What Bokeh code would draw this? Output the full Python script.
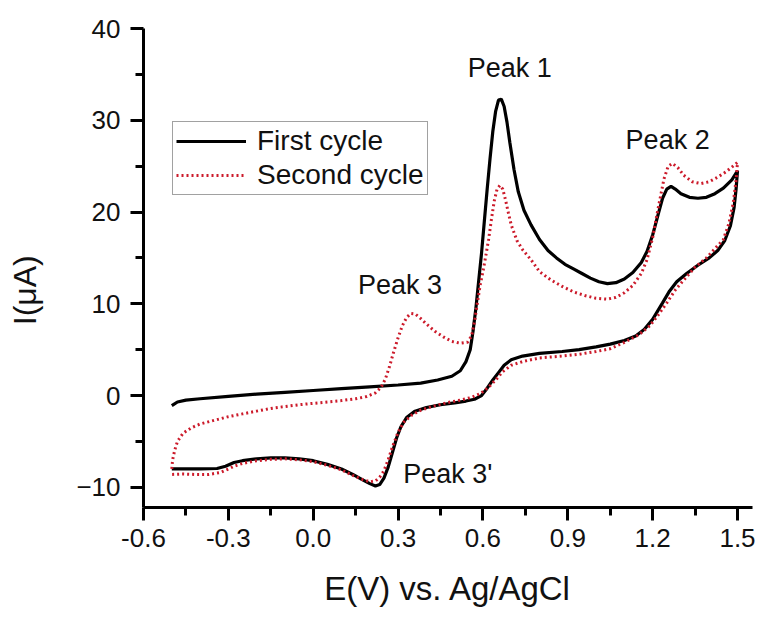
from bokeh.embed import file_html
from bokeh.models import (FixedTicker, Label, Legend, LegendItem,
                          PrintfTickFormatter)
from bokeh.plotting import figure
from bokeh.resources import INLINE

# Cyclic voltammograms: potential E (V vs. Ag/AgCl) and current I (uA)
first_E = [
    -0.50, -0.48, -0.45, -0.40, -0.30, -0.20, -0.10, 0.00, 0.10, 0.20, 0.30,
    0.38, 0.44, 0.49, 0.52, 0.54, 0.555, 0.565, 0.575, 0.585, 0.595, 0.605,
    0.615, 0.625, 0.635, 0.645, 0.655, 0.665, 0.675, 0.685, 0.695, 0.71,
    0.725, 0.745, 0.77, 0.80, 0.83, 0.86, 0.89, 0.92, 0.95, 0.98, 1.01, 1.04,
    1.07, 1.10, 1.13, 1.16, 1.18, 1.20, 1.22, 1.235, 1.25, 1.265, 1.28, 1.30,
    1.33, 1.36, 1.39, 1.42, 1.45, 1.48, 1.50,
    1.495, 1.488, 1.475, 1.455, 1.43, 1.40, 1.36, 1.32, 1.285, 1.26, 1.235,
    1.20, 1.17, 1.14, 1.10, 1.05, 1.00, 0.94, 0.88, 0.80, 0.74, 0.70, 0.675,
    0.655, 0.635, 0.615, 0.595, 0.57, 0.54, 0.50, 0.45, 0.40, 0.36, 0.33,
    0.31, 0.295, 0.28, 0.265, 0.25, 0.235, 0.22, 0.20, 0.17, 0.14, 0.10,
    0.05, 0.00, -0.05, -0.10, -0.15, -0.20, -0.25, -0.28, -0.31, -0.34,
    -0.40, -0.45, -0.50,
]
first_I = [
    -1.1, -0.7, -0.5, -0.35, -0.1, 0.15, 0.35, 0.55, 0.75, 0.95, 1.15,
    1.35, 1.7, 2.1, 2.7, 3.7, 5.0, 7.0, 9.5, 12.5, 15.5, 19.0,
    22.5, 25.8, 28.8, 31.0, 32.2, 32.3, 31.5, 29.8, 27.6, 24.6,
    22.2, 20.2, 18.6, 17.0, 15.8, 15.0, 14.3, 13.8, 13.3, 12.8, 12.4, 12.2,
    12.3, 12.7, 13.4, 14.5, 15.7, 17.5, 19.8, 21.5, 22.5, 22.8, 22.5, 22.0,
    21.6, 21.5, 21.6, 22.0, 22.6, 23.5, 24.5,
    22.5, 20.5, 18.5, 16.9, 15.8, 15.0, 14.2, 13.3, 12.4, 11.4, 10.1,
    8.3, 7.2, 6.5, 6.0, 5.6, 5.3, 5.0, 4.8, 4.6, 4.3, 3.9, 3.3,
    2.5, 1.7, 0.8, 0.0, -0.4, -0.6, -0.8, -1.0, -1.3, -1.7, -2.4,
    -3.4, -4.6, -6.2, -7.8, -9.0, -9.7, -9.85, -9.6, -9.1, -8.6, -8.0,
    -7.5, -7.1, -6.9, -6.8, -6.8, -6.9, -7.1, -7.3, -7.7, -7.95,
    -8.0, -8.0, -8.0,
]

second_E = [
    -0.50, -0.497, -0.49, -0.48, -0.46, -0.43, -0.40, -0.35, -0.30, -0.25,
    -0.20, -0.15, -0.10, -0.05, 0.00, 0.05, 0.10, 0.15, 0.19, 0.22, 0.24,
    0.255, 0.27, 0.285, 0.30, 0.315, 0.33, 0.345, 0.36, 0.38, 0.40, 0.43,
    0.46, 0.49, 0.52, 0.545, 0.56, 0.57, 0.58, 0.59, 0.60, 0.61, 0.62, 0.63,
    0.64, 0.65, 0.66, 0.67, 0.68, 0.69, 0.70, 0.72, 0.74, 0.77, 0.80, 0.84,
    0.88, 0.92, 0.96, 1.00, 1.04, 1.07, 1.10, 1.13, 1.16, 1.18, 1.20, 1.22,
    1.24, 1.255, 1.27, 1.29, 1.31, 1.34, 1.37, 1.40, 1.43, 1.46, 1.48, 1.50,
    1.495, 1.485, 1.47, 1.45, 1.42, 1.39, 1.35, 1.31, 1.28, 1.25, 1.22,
    1.19, 1.15, 1.10, 1.05, 1.00, 0.94, 0.88, 0.80, 0.74, 0.70, 0.67, 0.645,
    0.62, 0.59, 0.56, 0.52, 0.47, 0.42, 0.38, 0.35, 0.32, 0.30, 0.28, 0.265,
    0.25, 0.235, 0.22, 0.20, 0.17, 0.14, 0.10, 0.05, 0.00, -0.05, -0.10,
    -0.15, -0.20, -0.25, -0.28, -0.30, -0.33, -0.37, -0.42, -0.46, -0.50,
]
second_I = [
    -8.0, -7.0, -6.0, -5.0, -4.1, -3.5, -3.1, -2.7, -2.3, -2.0,
    -1.7, -1.4, -1.2, -1.0, -0.85, -0.7, -0.55, -0.35, -0.1, 0.3, 0.9,
    1.8, 3.2, 4.8, 6.3, 7.6, 8.5, 8.95, 8.9, 8.4, 7.8, 7.0,
    6.4, 5.9, 5.7, 5.8, 6.5, 8.0, 10.0, 12.0, 13.5, 15.2, 17.0, 19.2,
    21.2, 22.5, 22.9, 22.5, 21.3, 19.9, 18.6, 16.9, 15.9, 14.8, 13.5, 12.6,
    11.9, 11.3, 10.9, 10.6, 10.5, 10.7, 11.2, 12.0, 13.3, 14.8, 17.2, 20.5,
    23.6, 25.0, 25.3, 24.8, 24.0, 23.3, 23.1, 23.3, 23.8, 24.4, 24.9, 25.4,
    23.5, 21.0, 18.8, 17.0, 16.0, 15.0, 14.0, 12.6, 11.5, 10.1, 8.8,
    7.6, 6.6, 5.8, 5.1, 4.8, 4.5, 4.3, 4.1, 3.7, 3.3, 2.6, 1.7,
    0.9, 0.2, -0.2, -0.5, -0.8, -1.2, -1.6, -2.1, -2.9, -4.0, -5.6, -7.0,
    -8.2, -8.9, -9.3, -9.4, -9.1, -8.7, -8.1, -7.6, -7.2, -7.0, -6.9,
    -6.95, -7.1, -7.4, -7.7, -8.0, -8.4, -8.6, -8.6, -8.55, -8.6,
]

x_ticks = [-0.6, -0.3, 0.0, 0.3, 0.6, 0.9, 1.2, 1.5]
x_minor = [-0.45, -0.15, 0.15, 0.45, 0.75, 1.05, 1.35]
y_ticks = [-10, 0, 10, 20, 30, 40]
y_minor = [-5, 5, 15, 25, 35]

peak_names = ["Peak 1", "Peak 2", "Peak 3", "Peak 3'"]
peak_E = [0.695, 1.253, 0.307, 0.476]
peak_I = [35.7, 27.9, 12.0, -8.6]

FONT = "Liberation Sans"
RED = "#cc1b2b"

p = figure(width=763, height=617, x_range=(-0.6, 1.553), y_range=(-12.2, 40),
           output_backend="svg", toolbar_location=None,
           min_border_left=143, min_border_right=11,
           min_border_top=28, min_border_bottom=110)
p.outline_line_color = None
p.xgrid.visible = False
p.ygrid.visible = False
p.background_fill_color = "white"
p.border_fill_color = "white"

first = p.line(first_E, first_I, line_color="black", line_width=3.2)
second = p.line(second_E, second_I, line_color=RED, line_width=3,
                line_dash="2 3")

# Axes
p.xaxis.ticker = FixedTicker(ticks=x_ticks, minor_ticks=x_minor)
p.xaxis.formatter = PrintfTickFormatter(format="%.1f")
p.yaxis.ticker = FixedTicker(ticks=y_ticks, minor_ticks=y_minor)
for ax in (p.xaxis[0], p.yaxis[0]):
    ax.axis_line_width = 3
    ax.axis_line_color = "black"
    ax.major_tick_line_width = 3
    ax.minor_tick_line_width = 3
    ax.major_tick_line_color = "black"
    ax.minor_tick_line_color = "black"
    ax.major_tick_in = 0
    ax.major_tick_out = 13
    ax.minor_tick_in = 0
    ax.minor_tick_out = 8
    ax.major_label_text_font = FONT
    ax.major_label_text_font_size = "26px"
    ax.major_label_text_color = "#111111"
    ax.major_label_standoff = 8
    ax.axis_label_text_font = FONT
    ax.axis_label_text_font_style = "normal"
    ax.axis_label_text_font_size = "33px"
    ax.axis_label_text_color = "#111111"

p.xaxis.axis_label = "E(V) vs. Ag/AgCl"
p.xaxis.axis_label_standoff = 20
p.yaxis.major_label_standoff = 10
# trailing no-break spaces push the centred title a little down the axis
p.yaxis.axis_label = "I(\u03bcA)" + "\u00a0" * 5
p.yaxis.axis_label_text_font_size = "32px"
p.yaxis.axis_label_standoff = 30

for name, e, i in zip(peak_names, peak_E, peak_I):
    p.add_layout(Label(x=e, y=i, text=name, text_font=FONT,
                       text_font_size="27px", text_color="#111111",
                       text_align="center", text_baseline="middle"))

legend = Legend(items=[LegendItem(label="First cycle", renderers=[first]),
                       LegendItem(label="Second cycle", renderers=[second])],
                location=(29, 312))
legend.label_text_font = FONT
legend.label_text_font_size = "28px"
legend.label_text_color = "#111111"
legend.glyph_width = 70
legend.glyph_height = 28
legend.label_height = 28
legend.label_standoff = 11
legend.spacing = 2
legend.padding = 3
legend.margin = 0
legend.border_line_color = "#444444"
legend.border_line_width = 1
legend.background_fill_alpha = 1
p.add_layout(legend)

open("out.html", "w").write(file_html(p, INLINE))
